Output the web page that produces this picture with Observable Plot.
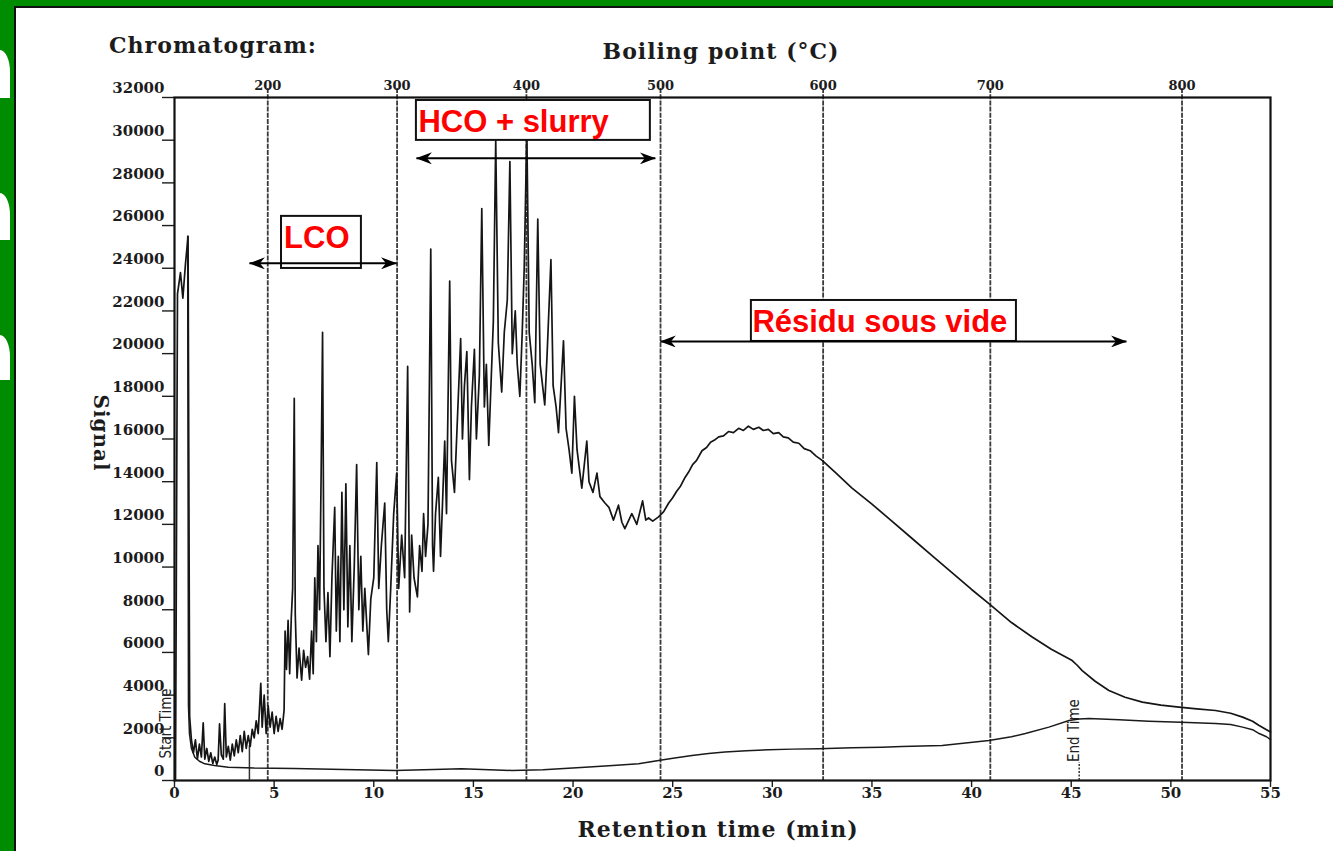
<!DOCTYPE html>
<html>
<head>
<meta charset="utf-8">
<script src="https://cdn.jsdelivr.net/npm/d3@7"></script>
<script src="https://cdn.jsdelivr.net/npm/@observablehq/plot@0.6"></script>
<style>
  html, body { margin: 0; padding: 0; background: #008c00; }
  #slide { position: relative; width: 1333px; height: 851px; overflow: hidden; background: #008c00; }
  #panel { position: absolute; left: 14px; top: 6px; width: 1319px; height: 845px; background: #fff;
           box-sizing: border-box; border-left: 2px solid #111; border-top: 2px solid #111; }
  .frag { position: absolute; left: 0; width: 10px; background: #fff; border-top-right-radius: 10px 22px; }
  #chart { position: absolute; left: 0; top: 0; }
  .t { position: absolute; font-family: "DejaVu Serif", serif; font-weight: bold; color: #1c1c1c;
       white-space: nowrap; transform: translate(-50%, -50%); line-height: 1; letter-spacing: 1px; }
</style>
</head>
<body>
<div id="slide">
  <div class="frag" style="top:50px;height:48px"></div>
  <div class="frag" style="top:193px;height:47px"></div>
  <div class="frag" style="top:335px;height:45px"></div>
  <div id="panel"></div>
  <div id="chart"></div>
  <div class="t" style="left:213px;top:45px;font-size:22px">Chromatogram:</div>
  <div class="t" style="left:721px;top:51px;font-size:22px">Boiling point (°C)</div>
  <div class="t" style="left:718px;top:829px;font-size:22px">Retention time (min)</div>
  <div class="t" style="left:101px;top:433px;font-size:20px;transform:translate(-50%,-50%) rotate(90deg)">Signal</div>
</div>
<script>
// Retention time (min) and detector signal of the sample run
const signalTrace = [
  [0.05, 0], [0.15, 22800], [0.3, 23800], [0.42, 22600], [0.55, 24200], [0.68, 25500], [0.76, 3000],
  [0.85, 1900], [0.95, 1300], [1.05, 1900], [1.15, 1000], [1.25, 1700], [1.35, 1100], [1.44, 2700],
  [1.52, 1000], [1.62, 1500], [1.72, 900], [1.82, 1300], [1.92, 800], [2.02, 1100], [2.12, 750],
  [2.19, 950], [2.26, 2650], [2.35, 1200], [2.45, 1000], [2.52, 3600], [2.6, 1100], [2.7, 1600],
  [2.8, 950], [2.9, 1700], [3.0, 1150], [3.1, 1900], [3.2, 1300], [3.3, 2100], [3.4, 1350],
  [3.5, 2300], [3.6, 1500], [3.7, 2100], [3.8, 1600], [3.9, 2400], [4.0, 2000], [4.1, 2800],
  [4.2, 2200], [4.33, 4550], [4.4, 2500], [4.5, 4000], [4.6, 2200], [4.7, 3500], [4.8, 2500],
  [4.9, 3200], [5.0, 2200], [5.1, 3000], [5.2, 2300], [5.3, 2900], [5.4, 2400], [5.5, 3300],
  [5.55, 7000], [5.62, 5200], [5.7, 7500], [5.78, 5000], [5.86, 7600], [5.93, 9000], [6.01, 17900],
  [6.06, 7800], [6.15, 4800], [6.25, 6200], [6.38, 4700], [6.48, 6100], [6.58, 5300], [6.68, 5800],
  [6.78, 4750], [6.88, 7000], [6.96, 5000], [7.04, 9500], [7.12, 6500], [7.2, 11000], [7.28, 8000],
  [7.36, 14500], [7.43, 21000], [7.5, 9000], [7.6, 6500], [7.7, 8800], [7.8, 5800], [7.9, 9500],
  [8.04, 12800], [8.12, 7000], [8.22, 10500], [8.3, 6500], [8.4, 13500], [8.5, 8000], [8.6, 13900],
  [8.7, 7200], [8.8, 11000], [8.9, 6500], [9.02, 10000], [9.14, 14800], [9.25, 8000], [9.35, 10500],
  [9.45, 7000], [9.55, 9000], [9.73, 5900], [9.85, 8500], [10.0, 9500], [10.15, 14900], [10.25, 9000],
  [10.38, 11000], [10.55, 13000], [10.65, 8000], [10.73, 6500], [10.85, 9000], [11.0, 12500],
  [11.15, 14400], [11.25, 9000], [11.4, 11500], [11.55, 9500], [11.7, 19400], [11.8, 7900],
  [11.9, 11500], [12.02, 9500], [12.19, 8600], [12.3, 11000], [12.42, 9800], [12.5, 12500],
  [12.6, 10500], [12.72, 12000], [12.86, 24900], [12.95, 11000], [13.0, 9800], [13.1, 12500],
  [13.24, 14200], [13.35, 10500], [13.45, 13000], [13.56, 15900], [13.65, 12500], [13.81, 23400],
  [13.9, 15000], [14.05, 13500], [14.2, 17000], [14.36, 20700], [14.45, 16000], [14.55, 18500],
  [14.67, 20100], [14.8, 14100], [14.9, 17500], [15.05, 20200], [15.15, 16000], [15.3, 19000],
  [15.42, 26800], [15.55, 17500], [15.65, 19500], [15.77, 15700], [15.9, 19000], [16.0, 21500],
  [16.12, 30000], [16.25, 20500], [16.42, 18200], [16.55, 21000], [16.7, 22500], [16.83, 29000],
  [16.95, 20000], [17.1, 22000], [17.2, 19500], [17.33, 18000], [17.45, 21000], [17.55, 24000],
  [17.68, 30500], [17.8, 21000], [17.95, 19500], [18.08, 17700], [18.23, 26300], [18.35, 19500],
  [18.58, 17600], [18.7, 20000], [18.89, 24400], [19.0, 18500], [19.15, 17500], [19.27, 16300],
  [19.52, 20600], [19.65, 16500], [19.8, 15500], [19.94, 14400], [20.07, 18000], [20.2, 15500],
  [20.44, 13700], [20.69, 15900], [20.8, 14000], [21.0, 13500], [21.2, 14400], [21.35, 13300],
  [21.6, 13000], [21.8, 12800], [22.03, 12200], [22.28, 12900], [22.45, 12100], [22.6, 11800],
  [22.95, 12500], [23.2, 12000], [23.49, 13100], [23.65, 12200], [23.79, 12300], [24.0, 12150],
  [24.29, 12350], [24.55, 12600], [24.8, 13000], [25.0, 13250], [25.2, 13550], [25.4, 13800],
  [25.62, 14200], [25.8, 14450], [26.0, 14800], [26.2, 15000], [26.47, 15450], [26.7, 15600],
  [26.9, 15850], [27.1, 15950], [27.31, 16100], [27.55, 16150], [27.8, 16350], [28.05, 16300],
  [28.31, 16500], [28.55, 16400], [28.8, 16600], [29.05, 16450], [29.32, 16550], [29.55, 16400],
  [29.8, 16450], [30.05, 16250], [30.32, 16300], [30.55, 16100], [30.8, 16050], [31.05, 15850],
  [31.33, 15800], [31.6, 15550], [31.9, 15450], [32.2, 15200], [32.5, 15000], [33.2, 14400],
  [34.0, 13700], [35.0, 12950], [36.0, 12150], [37.0, 11350], [38.0, 10550], [39.0, 9750],
  [40.0, 8950], [40.87, 8290], [42.0, 7400], [43.04, 6720], [44.0, 6150], [45.05, 5620],
  [45.3, 5400], [45.55, 5150], [46.2, 4650], [46.89, 4220], [47.7, 3900], [48.57, 3670],
  [49.5, 3530], [50.41, 3440], [51.3, 3360], [52.24, 3280], [53.0, 3150], [53.6, 2970],
  [54.1, 2780], [54.43, 2580], [54.8, 2380], [55.0, 2270]
];

// Blank run (column bleed baseline)
const blankTrace = [
  [0.66, 25500], [0.7, 3500], [0.75, 2200], [0.85, 1500], [1.02, 1090], [1.25, 900], [1.52, 780],
  [2.0, 700], [2.7, 620], [4.0, 580], [6.0, 560], [8.5, 520], [11.05, 470], [13.0, 520], [14.4, 550],
  [16.93, 470], [18.5, 500], [20.6, 620], [22.0, 700], [23.29, 780], [24.29, 940], [25.1, 1050],
  [25.97, 1170], [26.8, 1260], [27.62, 1330], [28.7, 1390], [29.82, 1440], [31.0, 1470],
  [32.33, 1490], [34.0, 1530], [35.5, 1560], [36.5, 1590], [38.52, 1640], [40.87, 1870],
  [42.0, 2050], [42.7, 2200], [43.88, 2500], [44.89, 2810], [45.4, 2880], [45.89, 2900],
  [47.4, 2850], [48.9, 2780], [50.5, 2730], [52.24, 2670], [53.0, 2620], [53.6, 2500],
  [54.1, 2380], [54.43, 2200], [54.8, 2050], [55.0, 1920]
];

// Axis ticks
const timeTicks = d3.range(0, 56, 5);
const signalTicks = d3.range(0, 32001, 2000);

// Boiling point scale (°C) and the retention time at which each is reached
const boilingPoints = [200, 300, 400, 500, 600, 700, 800];
const boilingTime = [4.68, 11.17, 17.66, 24.39, 32.55, 40.94, 50.56];

// Run markers
const startMarker = { time: 3.76, height: 1640 };
const endMarker = { time: 45.4, height: 840 };
const runNotes = [
  { text: "Start Time", time: -0.4, value: 2670 },
  { text: "End Time", time: 45.16, value: 2340 }
];

// Fraction cuts
const fractionName = ["LCO", "HCO + slurry", "Résidu sous vide"];
const fractionStart = [3.76, 12.14, 24.38];
const fractionEnd = [11.14, 24.13, 47.77];
const fractionLevel = [24230, 29150, 20570];
const labelBoxTime = [[5.37, 9.38], [12.14, 23.88], [28.95, 42.25]];
const labelBoxValue = [[23990, 26430], [29990, 31860], [20570, 22490]];
const labelTime = [5.5, 12.24, 29.0];
const labelValue = [25400, 30850, 21480];

const fractions = fractionName.map((name, i) => ({
  name, start: fractionStart[i], end: fractionEnd[i], level: fractionLevel[i],
  bx1: labelBoxTime[i][0], bx2: labelBoxTime[i][1], by1: labelBoxValue[i][0], by2: labelBoxValue[i][1],
  tx: labelTime[i], ty: labelValue[i]
}));

const W = 1333, H = 851;
const serif = "DejaVu Serif, serif";
const ink = "#1c1c1c";

const chart = Plot.plot({
  width: W,
  height: H,
  marginLeft: 174,
  marginRight: W - 1270,
  marginTop: 97,
  marginBottom: H - 780,
  x: { domain: [0, 55], axis: null },
  y: { domain: [0, 32000], axis: null },
  style: { background: "transparent", overflow: "visible" },
  marks: [
    // boiling point grid
    Plot.ruleX(boilingTime, { stroke: "#3a3a3a", strokeWidth: 1.8, strokeDasharray: "5 1.2", insetTop: -9 }),
    Plot.text(boilingPoints, {
      x: (d, i) => boilingTime[i], text: d => String(d), frameAnchor: "top", dy: -17,
      fontFamily: serif, fontWeight: "bold", fontSize: 13, fill: ink
    }),
    // bottom axis
    Plot.axisX({ ticks: timeTicks, tickSize: 7, tickFormat: () => "", stroke: ink, strokeWidth: 1.4 }),
    Plot.text(timeTicks, {
      x: d => d, text: d => String(d), frameAnchor: "bottom", dy: 17,
      fontFamily: serif, fontWeight: "bold", fontSize: 15, fill: ink
    }),
    // left axis
    Plot.axisY({ ticks: signalTicks, tickSize: 12, tickFormat: () => "", stroke: ink, strokeWidth: 1.4 }),
    Plot.text(signalTicks, {
      y: d => d, text: d => String(d), frameAnchor: "left", textAnchor: "end", dx: -10, dy: -9,
      fontFamily: serif, fontWeight: "bold", fontSize: 15, fill: ink
    }),
    Plot.frame({ stroke: "#111", strokeWidth: 2.2 }),
    // run markers
    Plot.ruleX([startMarker], { x: "time", y1: 0, y2: "height", stroke: "#333", strokeWidth: 1.5 }),
    Plot.ruleX([endMarker], { x: "time", y1: 0, y2: "height", stroke: "#333", strokeWidth: 1.5, strokeDasharray: "2 1.5" }),
    Plot.text(runNotes, {
      x: "time", y: "value", text: "text", rotate: -90,
      fontFamily: "Liberation Sans Narrow, DejaVu Sans Condensed, sans-serif", fontSize: 15, fill: "#222"
    }),
    // traces
    Plot.line(blankTrace, { x: d => d[0], y: d => d[1], stroke: "#1a1a1a", strokeWidth: 1.5 }),
    Plot.line(signalTrace, { x: d => d[0], y: d => d[1], stroke: "#151515", strokeWidth: 1.7 }),
    // fraction labels
    Plot.rect(fractions, { x1: "bx1", x2: "bx2", y1: "by1", y2: "by2", fill: "white", stroke: "#111", strokeWidth: 2 }),
    Plot.text(fractions, {
      x: "tx", y: "ty", text: "name", textAnchor: "start",
      fontFamily: "Liberation Sans, Arial, sans-serif", fontWeight: "bold", fontSize: 31, fill: "#ff0000"
    }),
    Plot.link(fractions, { x1: "start", x2: "end", y1: "level", y2: "level", stroke: "#000", strokeWidth: 2 })
  ]
});

// filled arrowheads on both ends of each fraction span
const svg = d3.select(chart);
const marker = svg.append("defs").append("marker")
  .attr("id", "span-head")
  .attr("viewBox", "0 0 16 12")
  .attr("refX", 15.5).attr("refY", 6)
  .attr("markerWidth", 16).attr("markerHeight", 12)
  .attr("markerUnits", "userSpaceOnUse")
  .attr("orient", "auto-start-reverse");
marker.append("path").attr("d", "M0,0 L16,6 L0,12 L5,6 Z").attr("fill", "#000");
svg.selectAll('g[aria-label="link"] path')
  .attr("marker-start", "url(#span-head)")
  .attr("marker-end", "url(#span-head)");

document.getElementById("chart").appendChild(chart);
</script>
</body>
</html>
